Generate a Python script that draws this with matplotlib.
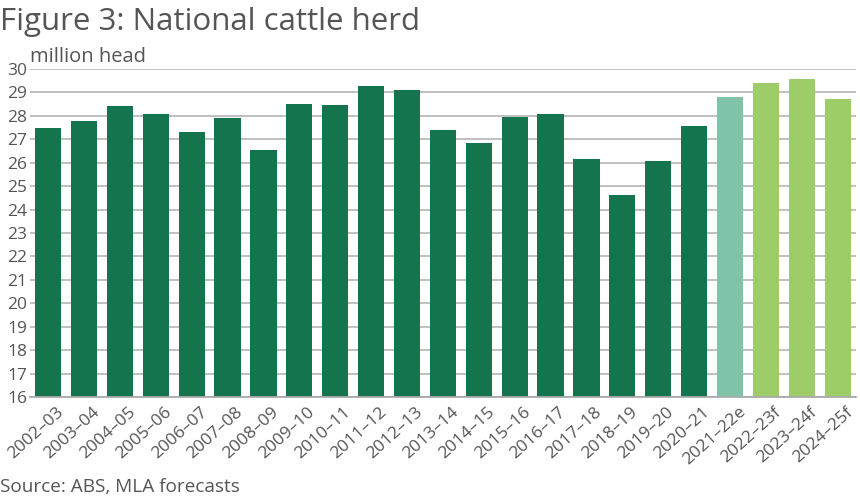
import matplotlib
matplotlib.use("Agg")
import matplotlib.pyplot as plt
import matplotlib.transforms as mtransforms

years = ["2002–03", "2003–04", "2004–05", "2005–06", "2006–07", "2007–08",
         "2008–09", "2009–10", "2010–11", "2011–12", "2012–13", "2013–14",
         "2014–15", "2015–16", "2016–17", "2017–18", "2018–19", "2019–20",
         "2020–21", "2021–22e", "2022–23f", "2023–24f", "2024–25f"]
herd = [27.5, 27.8, 28.4, 28.07, 27.3, 27.9, 26.55, 28.52, 28.45, 29.29,
        29.09, 27.4, 26.86, 27.97, 28.07, 26.16, 24.62, 26.09, 27.55,
        28.82, 29.39, 29.59, 28.7]
kind = ["actual"] * 19 + ["estimate"] + ["forecast"] * 3

colours = {"actual": "#13744d", "estimate": "#80c3a9", "forecast": "#9dcd68"}
text_grey = "#555555"

plt.rcParams["font.family"] = ["Open Sans", "DejaVu Sans"]

fig = plt.figure(figsize=(8.6, 5), dpi=100)
ax = fig.add_axes([0.035, 0.206, 0.96, 0.656])

ax.bar(range(len(years)), [h - 16 for h in herd], bottom=16, width=0.73,
       color=[colours[k] for k in kind], zorder=2)

ax.set_ylim(16, 30)
ax.set_xlim(-0.5, len(years) - 0.5)
ax.set_yticks(range(16, 31))
ax.set_xticks(range(len(years)))
ax.set_xticklabels(years, rotation=42, ha="right", rotation_mode="anchor")
ax.yaxis.grid(True, color="#bbbbbb", linewidth=1.3, zorder=0)
ax.tick_params(axis="x", length=0, labelsize=12.5, colors=text_grey, pad=5)
ax.tick_params(axis="y", length=0, labelsize=12.5, colors=text_grey, pad=2)
# labels in the original sit a little right of the bar centres
shift = mtransforms.ScaledTranslation(8 / 100, 0, fig.dpi_scale_trans)
for lab in ax.get_xticklabels():
    lab.set_transform(lab.get_transform() + shift)
for side in ["top", "right", "left"]:
    ax.spines[side].set_visible(False)
ax.spines["bottom"].set_color("#aaaaaa")
ax.spines["bottom"].set_linewidth(1.3)

fig.text(0.0, 0.94, "Figure 3: National cattle herd", fontsize=22.5,
         color=text_grey, va="baseline")
fig.text(0.035, 0.877, "million head", fontsize=14.5, color=text_grey,
         va="baseline")
fig.text(0.0, 0.017, "Source: ABS, MLA forecasts", fontsize=13.7,
         color=text_grey, va="baseline")

fig.savefig("out.png", dpi=100)
